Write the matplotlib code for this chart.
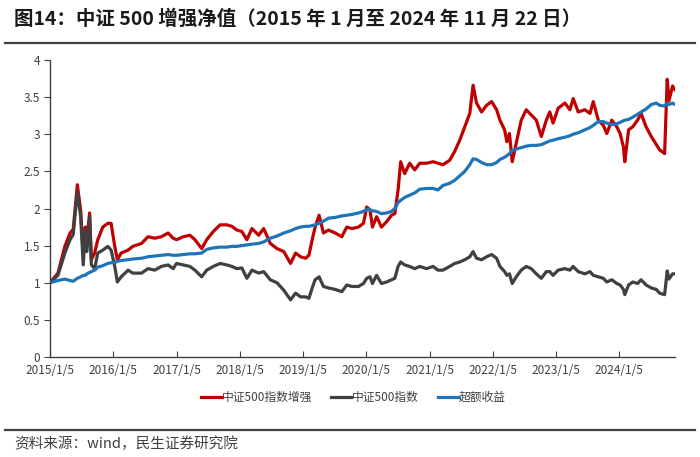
import matplotlib
matplotlib.use("Agg")
import matplotlib.pyplot as plt
from matplotlib.ticker import FuncFormatter, MultipleLocator
import pandas as pd

plt.rcParams['font.family'] = ['Noto Sans CJK SC', 'DejaVu Sans']

dates = ["2015-01-05","2015-02-20","2015-04-01","2015-05-01","2015-05-19","2015-06-12","2015-07-01",
"2015-07-16","2015-07-28","2015-08-06","2015-08-22","2015-09-01","2015-09-20","2015-10-08","2015-11-06",
"2015-12-05","2015-12-24","2016-01-14","2016-01-29","2016-02-20","2016-03-31","2016-04-27","2016-06-17",
"2016-07-24","2016-09-01","2016-10-09","2016-11-17","2016-12-16","2017-01-05","2017-02-13","2017-03-23",
"2017-04-21","2017-05-30","2017-06-28","2017-08-05","2017-09-13","2017-10-22","2017-11-20","2017-12-19",
"2018-01-17","2018-02-15","2018-03-16","2018-04-24","2018-05-23","2018-06-30","2018-08-08","2018-09-16",
"2018-10-25","2018-11-23","2018-12-22","2019-01-20","2019-02-08","2019-02-27","2019-03-16","2019-04-08",
"2019-05-03","2019-06-01","2019-07-10","2019-08-17","2019-09-15","2019-10-14","2019-11-21","2019-12-20",
"2020-01-08","2020-01-27","2020-02-10","2020-03-05","2020-04-02","2020-05-01","2020-05-30","2020-06-18",
"2020-07-07","2020-07-22","2020-08-14","2020-09-12","2020-10-11","2020-11-09","2020-12-18","2021-01-25",
"2021-02-22","2021-03-23","2021-05-01","2021-05-30","2021-06-28","2021-07-27","2021-08-25","2021-09-13",
"2021-10-03","2021-11-01","2021-11-30","2021-12-29","2022-01-27","2022-02-15","2022-03-14","2022-03-27",
"2022-04-11","2022-04-27","2022-05-20","2022-06-18","2022-07-17","2022-08-15","2022-09-13","2022-10-12",
"2022-11-10","2022-11-30","2022-12-19","2023-01-17","2023-02-25","2023-03-26","2023-04-14","2023-05-13",
"2023-06-21","2023-07-20","2023-08-08","2023-09-06","2023-10-05","2023-10-25","2023-11-23","2023-12-22",
"2024-01-10","2024-01-29","2024-02-06","2024-02-28","2024-03-23","2024-04-20","2024-05-10","2024-06-08",
"2024-07-08","2024-08-06","2024-08-25","2024-09-23","2024-10-08","2024-10-18","2024-11-08","2024-11-22"]

enhanced = [1.00,1.13,1.49,1.67,1.72,2.32,1.98,1.40,1.75,1.58,1.94,1.31,1.40,1.58,1.75,
1.80,1.80,1.49,1.31,1.40,1.44,1.49,1.53,1.62,1.60,1.62,1.67,1.60,1.58,1.62,1.64,
1.58,1.46,1.58,1.69,1.78,1.78,1.76,1.71,1.69,1.58,1.73,1.64,1.73,1.53,1.46,1.42,
1.26,1.40,1.35,1.33,1.37,1.58,1.75,1.91,1.67,1.71,1.67,1.62,1.75,1.73,1.75,1.80,
2.02,1.98,1.75,1.89,1.75,1.82,1.91,1.93,2.25,2.63,2.47,2.61,2.52,2.61,2.61,2.63,
2.61,2.59,2.65,2.77,2.92,3.10,3.28,3.66,3.42,3.30,3.39,3.44,3.33,3.19,3.06,2.90,
3.01,2.63,2.88,3.19,3.33,3.26,3.19,2.97,3.19,3.30,3.15,3.35,3.42,3.33,3.48,3.30,
3.33,3.28,3.44,3.19,3.12,3.01,3.19,3.10,3.01,2.83,2.63,3.06,3.10,3.19,3.28,3.10,
2.97,2.86,2.79,2.74,3.74,3.45,3.65,3.60]

index500 = [1.00,1.10,1.40,1.58,1.65,2.23,1.89,1.24,1.71,1.42,1.89,1.24,1.19,1.40,1.44,
1.49,1.44,1.22,1.01,1.08,1.17,1.13,1.13,1.19,1.17,1.22,1.24,1.19,1.26,1.24,1.22,
1.17,1.08,1.17,1.22,1.26,1.24,1.22,1.19,1.20,1.06,1.17,1.13,1.15,1.04,1.00,0.90,
0.77,0.86,0.81,0.81,0.79,0.93,1.04,1.08,0.95,0.93,0.91,0.88,0.97,0.95,0.95,0.99,
1.06,1.08,0.99,1.10,0.99,1.01,1.04,1.06,1.22,1.28,1.24,1.22,1.19,1.22,1.19,1.22,
1.17,1.17,1.22,1.26,1.28,1.31,1.35,1.42,1.33,1.31,1.35,1.38,1.33,1.22,1.15,1.10,
1.12,0.99,1.08,1.17,1.22,1.19,1.12,1.06,1.15,1.15,1.10,1.17,1.19,1.17,1.22,1.15,
1.12,1.15,1.10,1.08,1.06,1.01,1.04,0.99,0.97,0.91,0.84,0.97,1.01,0.99,1.04,0.97,
0.93,0.91,0.86,0.84,1.16,1.05,1.12,1.12]

excess = [1.00,1.03,1.05,1.03,1.02,1.06,1.08,1.10,1.10,1.12,1.14,1.15,1.17,1.21,1.23,
1.26,1.27,1.27,1.29,1.30,1.31,1.32,1.33,1.35,1.36,1.37,1.38,1.37,1.37,1.38,1.39,
1.39,1.40,1.45,1.47,1.48,1.48,1.49,1.49,1.50,1.51,1.52,1.53,1.55,1.60,1.63,1.67,
1.70,1.73,1.75,1.76,1.76,1.77,1.78,1.80,1.83,1.87,1.88,1.90,1.91,1.92,1.94,1.96,
1.99,1.98,1.97,1.96,1.93,1.94,1.96,2.00,2.08,2.11,2.15,2.18,2.21,2.26,2.27,2.27,
2.25,2.31,2.34,2.38,2.44,2.50,2.59,2.67,2.66,2.62,2.59,2.59,2.62,2.66,2.69,2.71,
2.74,2.78,2.80,2.82,2.84,2.85,2.85,2.86,2.89,2.91,2.92,2.94,2.96,2.98,3.00,3.02,
3.06,3.09,3.12,3.17,3.17,3.15,3.13,3.14,3.16,3.18,3.19,3.20,3.23,3.27,3.30,3.34,
3.40,3.42,3.39,3.38,3.42,3.40,3.42,3.40]

series_names = ["中证500指数增强", "中证500指数", "超额收益"]
colors = ["#C00000", "#404040", "#1F74B8"]
tick_dates = ["2015-01-05","2016-01-05","2017-01-05","2018-01-05","2019-01-05",
              "2020-01-05","2021-01-05","2022-01-05","2023-01-05","2024-01-05"]
tick_labels = ["2015/1/5","2016/1/5","2017/1/5","2018/1/5","2019/1/5",
               "2020/1/5","2021/1/5","2022/1/5","2023/1/5","2024/1/5"]

d = pd.to_datetime(dates)

fig = plt.figure(figsize=(7, 4.57), dpi=100)
ax = fig.add_axes([0.0714, 0.2188, 0.8929, 0.6499])

for vals, name, c in zip([enhanced, index500, excess], series_names, colors):
    ax.plot(d, vals, color=c, lw=2.3, label=name, solid_joinstyle='round')

ax.set_xlim(pd.Timestamp("2015-01-05"), pd.Timestamp("2024-11-22"))
ax.set_ylim(0, 4)
ax.yaxis.set_major_locator(MultipleLocator(0.5))
ax.yaxis.set_major_formatter(FuncFormatter(lambda v, p: f"{v:g}"))
ax.set_xticks(pd.to_datetime(tick_dates))
ax.set_xticklabels(tick_labels)

for s in ["top", "right"]:
    ax.spines[s].set_visible(False)
for s in ["left", "bottom"]:
    ax.spines[s].set_color("#404040")
    ax.spines[s].set_linewidth(1.0)
ax.tick_params(axis='y', direction='out', length=4, color="#404040", labelsize=8.5, labelcolor="#404040", pad=3)
ax.tick_params(axis='x', direction='in', length=4, color="#404040", labelsize=8.5, labelcolor="#404040", pad=5)

leg = fig.legend(loc='center', bbox_to_anchor=(0.505, 0.131), ncol=3, frameon=False,
                 fontsize=8.5, handlelength=1.7, handletextpad=0.05, columnspacing=1.6)
for t in leg.get_texts():
    t.set_color("#404040")

fig.text(0.02, 0.958, "图14：中证 500 增强净值（2015 年 1 月至 2024 年 11 月 22 日）",
         fontsize=14, fontweight='bold', color="#1a1a1a", va='center', ha='left')
fig.add_artist(plt.Line2D([0.007, 0.993], [0.906, 0.906], color="#404040", lw=1.6, transform=fig.transFigure))
fig.add_artist(plt.Line2D([0.007, 0.993], [0.059, 0.059], color="#404040", lw=1.6, transform=fig.transFigure))
fig.text(0.02, 0.03, "资料来源：wind，民生证券研究院", fontsize=10.5, color="#404040", va='center', ha='left')

fig.savefig("out.png", dpi=100)
